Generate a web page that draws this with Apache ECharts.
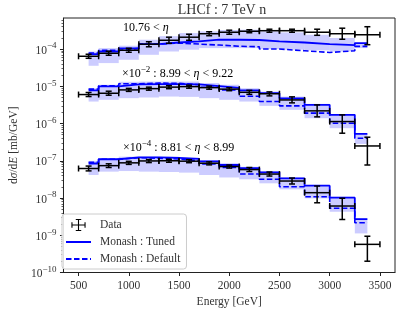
<!DOCTYPE html>
<html>
<head>
<meta charset="utf-8">
<script src="https://cdn.jsdelivr.net/npm/echarts@6/dist/echarts.min.js"></script>
<style>html,body{margin:0;padding:0;background:#fff}#main{width:399px;height:322px}</style>
</head>
<body>
<div id="main"></div>
<script>
var chartDom = document.getElementById('main');
var myChart = echarts.init(chartDom);
var option;

// energy bins [GeV]
var dataEdges = [500, 700, 900, 1100, 1300, 1500, 1700, 1900, 2100, 2300, 2500, 2750, 3000, 3250, 3500];
var modelEdges = [600, 700, 900, 1100, 1300, 1500, 1700, 1900, 2100, 2300, 2500, 2750, 3000, 3250, 3375];

// 10.76 < eta
var dataTop = [6.4e-5, 7.7e-5, 9.3e-5, 1.35e-4, 1.72e-4, 2.08e-4, 2.58e-4, 2.83e-4, 3.01e-4, 3.11e-4, 3.11e-4, 2.83e-4, 2.58e-4, 2.42e-4];
var dataTopLo = [5.65e-5, 6.81e-5, 8.19e-5, 1.15e-4, 1.43e-4, 1.72e-4, 2.28e-4, 2.5e-4, 2.74e-4, 2.83e-4, 2.83e-4, 2.34e-4, 1.83e-4, 1.31e-4];
var dataTopHi = [7.25e-5, 8.73e-5, 1.05e-4, 1.57e-4, 2.08e-4, 2.5e-4, 2.92e-4, 3.21e-4, 3.3e-4, 3.41e-4, 3.41e-4, 3.41e-4, 3.63e-4, 3.98e-4];
var tunedTop = [7.3e-5, 8.6e-5, 1.04e-4, 1.36e-4, 1.5e-4, 1.6e-4, 1.78e-4, 1.78e-4, 1.75e-4, 1.6e-4, 1.5e-4, 1.36e-4, 1.28e-4, 1.45e-4];
var defaultTop = [7.8e-5, 9.2e-5, 1.04e-4, 1.36e-4, 1.45e-4, 1.36e-4, 1.28e-4, 1.19e-4, 1.15e-4, 1.0e-4, 9.0e-5, 8.1e-5, 9.0e-5, 1.18e-4];
var bandTopHi = [8.6e-5, 1.06e-4, 1.23e-4, 1.78e-4, 2.22e-4, 2.69e-4, 2.98e-4, 3.25e-4, 3.31e-4, 2.98e-4, 2.8e-4, 2.42e-4, 1.98e-4, 1.45e-4];
var bandTopLo = [3.55e-5, 4.2e-5, 5.15e-5, 7.0e-5, 8.6e-5, 9.6e-5, 1.06e-4, 1.06e-4, 1.06e-4, 1.0e-4, 9.6e-5, 9.2e-5, 8.6e-5, 1.06e-4];

// x1e-2 : 8.99 < eta < 9.22 (values as plotted)
var dataMid = [6.0e-6, 6.5e-6, 8.0e-6, 8.65e-6, 9.5e-6, 9.8e-6, 9.2e-6, 8.4e-6, 6.9e-6, 6.3e-6, 4.3e-6, 2.19e-6, 1.13e-6, 2.5e-7];
var dataMidLo = [5.31e-6, 5.76e-6, 7.3e-6, 7.86e-6, 8.63e-6, 8.89e-6, 8.35e-6, 7.61e-6, 6.08e-6, 5.53e-6, 3.59e-6, 1.51e-6, 5.5e-7, 7.7e-8];
var dataMidHi = [6.81e-6, 7.38e-6, 8.79e-6, 9.48e-6, 1.04e-5, 1.07e-5, 1.01e-5, 9.18e-6, 7.79e-6, 7.08e-6, 5.2e-6, 3.17e-6, 1.71e-6, 4.29e-7];
var tunedMid = [7.8e-6, 1.0e-5, 1.13e-5, 1.15e-5, 1.15e-5, 1.12e-5, 1.01e-5, 9.1e-6, 7.8e-6, 6.55e-6, 4.75e-6, 3.17e-6, 1.71e-6, 5.26e-7];
var defaultMid = [8.4e-6, 1.03e-5, 1.17e-5, 1.22e-5, 1.2e-5, 1.1e-5, 9.4e-6, 8.0e-6, 5.4e-6, 3.89e-6, 2.98e-6, 1.9e-6, 1.02e-6, 4.03e-7];
var bandMidHi = [8.9e-6, 1.1e-5, 1.32e-5, 1.34e-5, 1.34e-5, 1.34e-5, 1.22e-5, 1.1e-5, 8.9e-6, 7.2e-6, 5.3e-6, 3.38e-6, 1.71e-6, 5.26e-7];
var bandMidLo = [3.89e-6, 4.33e-6, 4.8e-6, 5.0e-6, 5.3e-6, 5.2e-6, 4.8e-6, 4.33e-6, 3.89e-6, 2.98e-6, 2.33e-6, 1.39e-6, 7.5e-7, 2.83e-7];

// x1e-4 : 8.81 < eta < 8.99 (values as plotted)
var dataBot = [6.2e-8, 7.4e-8, 8.8e-8, 9.9e-8, 1.0e-7, 9.75e-8, 8.6e-8, 7.0e-8, 5.8e-8, 4.4e-8, 2.86e-8, 1.39e-8, 6.1e-9, 5.7e-10];
var dataBotLo = [5.35e-8, 6.6e-8, 8.0e-8, 8.95e-8, 9.12e-8, 8.87e-8, 7.76e-8, 6.36e-8, 5.15e-8, 3.89e-8, 2.38e-8, 7.45e-9, 2.65e-9, 2.01e-10];
var dataBotHi = [7.21e-8, 8.3e-8, 9.65e-8, 1.08e-7, 1.1e-7, 1.07e-7, 9.36e-8, 7.67e-8, 6.6e-8, 4.99e-8, 3.44e-8, 2.1e-8, 9.86e-9, 9.42e-10];
var tunedBot = [8.46e-8, 1.1e-7, 1.24e-7, 1.23e-7, 1.2e-7, 1.13e-7, 9.6e-8, 7.7e-8, 6.3e-8, 4.9e-8, 3.38e-8, 2.14e-8, 1.02e-8, 2.72e-9];
var defaultBot = [9.1e-8, 1.1e-7, 1.21e-7, 1.17e-7, 1.12e-7, 1.0e-7, 8.2e-8, 6.6e-8, 4.4e-8, 3.18e-8, 2.0e-8, 1.08e-8, 5.3e-9, 2.16e-9];
var bandBotHi = [9.9e-8, 1.17e-7, 1.29e-7, 1.29e-7, 1.29e-7, 1.21e-7, 1.05e-7, 8.6e-8, 6.9e-8, 5.3e-8, 3.6e-8, 2.23e-8, 1.08e-8, 2.84e-9];
var bandBotLo = [4.15e-8, 5.1e-8, 5.3e-8, 5.1e-8, 5.0e-8, 4.8e-8, 4.15e-8, 3.56e-8, 3.18e-8, 2.48e-8, 1.71e-8, 9.8e-9, 4.27e-9, 1.12e-9];

var xTicks = [500, 1000, 1500, 2000, 2500, 3000, 3500];
var yDecades = [-10, -9, -8, -7, -6, -5, -4];
var yMin = 1e-10, yMax = 6.82e-4;

var FONT = 'Liberation Serif';
var TXT = '#333';
var lg = Math.log10;

var groups = [
  {d: dataTop, lo: dataTopLo, hi: dataTopHi, t: tunedTop, df: defaultTop, bh: bandTopHi, bl: bandTopLo},
  {d: dataMid, lo: dataMidLo, hi: dataMidHi, t: tunedMid, df: defaultMid, bh: bandMidHi, bl: bandMidLo},
  {d: dataBot, lo: dataBotLo, hi: dataBotHi, t: tunedBot, df: defaultBot, bh: bandBotHi, bl: bandBotLo}
];

// minor ticks 2..9 x 10^n
var minorTicks = [];
for (var n = -10; n <= -4; n++) {
  for (var k = 2; k <= 9; k++) {
    var v = lg(k) + n;
    if (v < lg(yMax)) minorTicks.push(v);
  }
}

function stepData(vals) {
  return modelEdges.map(function (e, i) {
    return [e, lg(vals[Math.min(i, vals.length - 1)])];
  });
}

function seg(x1, y1, x2, y2) {
  return {type: 'line', shape: {x1: x1, y1: y1, x2: x2, y2: y2},
    style: {stroke: '#000', lineWidth: 1.5}};
}

function renderErr(params, api) {
  var x0 = api.value(0), x1 = api.value(1), y = api.value(2);
  var lo = api.value(3), hi = api.value(4);
  var xc = (x0 + x1) / 2;
  var pL = api.coord([x0, y]), pR = api.coord([x1, y]);
  var pT = api.coord([xc, hi]), pB = api.coord([xc, lo]);
  var c = 3;
  return {type: 'group', children: [
    seg(pL[0], pL[1], pR[0], pR[1]),
    seg(pT[0], pT[1], pB[0], pB[1]),
    seg(pT[0] - c, pT[1], pT[0] + c, pT[1]),
    seg(pB[0] - c, pB[1], pB[0] + c, pB[1]),
    seg(pL[0], pL[1] - c, pL[0], pL[1] + c),
    seg(pR[0], pR[1] - c, pR[0], pR[1] + c)
  ]};
}

function renderBand(params, api) {
  var p0 = api.coord([api.value(0), api.value(3)]);
  var p1 = api.coord([api.value(1), api.value(2)]);
  return {type: 'rect', shape: {x: p0[0], y: p0[1], width: p1[0] - p0[0], height: p1[1] - p0[1]},
    style: {fill: 'rgba(0,0,255,0.2)'}};
}

var series = [];
groups.forEach(function (g) {
  series.push({
    type: 'custom', name: 'band', silent: true, z: 1,
    renderItem: renderBand,
    encode: {x: [0, 1], y: [2, 3]},
    data: g.bh.map(function (h, i) { return [modelEdges[i], modelEdges[i + 1], lg(g.bl[i]), lg(h)]; })
  });
  series.push({
    type: 'line', name: 'Monash : Tuned', step: 'end', symbol: 'none', z: 2,
    lineStyle: {color: '#0000ff', width: 1.8}, itemStyle: {color: '#0000ff'},
    data: stepData(g.t)
  });
  series.push({
    type: 'line', name: 'Monash : Default', step: 'end', symbol: 'none', z: 2,
    lineStyle: {color: '#0000ff', width: 1.6, type: [5.5, 2.5]}, itemStyle: {color: '#0000ff'},
    data: stepData(g.df)
  });
  series.push({
    type: 'custom', name: 'Data', z: 3,
    renderItem: renderErr,
    itemStyle: {color: '#000'},
    encode: {x: [0, 1], y: [2, 3, 4]},
    data: g.d.map(function (v, i) { return [dataEdges[i], dataEdges[i + 1], lg(v), lg(g.lo[i]), lg(g.hi[i])]; })
  });
});

var errIcon = 'path://M0,10H26V12H0Z M12,0H14V22H12Z M8,0H18V2H8Z M8,20H18V22H8Z M0,6H2V16H0Z M24,6H26V16H24Z';

function richSet(size) {
  return {
    b: {fontFamily: FONT, fontSize: size, color: TXT, lineHeight: 15, verticalAlign: 'bottom'},
    s: {fontFamily: FONT, fontSize: 9, color: TXT, lineHeight: 15, verticalAlign: 'top'},
    i: {fontFamily: FONT, fontSize: size, color: TXT, fontStyle: 'italic', lineHeight: 15, verticalAlign: 'bottom'}
  };
}
var rich = richSet(11.5);
var richNote = richSet(12);

option = {
  animation: false,
  backgroundColor: '#fff',
  grid: {left: 55, right: 4, top: 18, bottom: 49.5, show: true, borderColor: '#222', borderWidth: 1},
  legend: {
    left: 62, top: 214, orient: 'vertical',
    data: [
      {name: 'Data', icon: errIcon},
      {name: 'Monash : Tuned', itemStyle: {opacity: 0}},
      {name: 'Monash : Default', itemStyle: {opacity: 0}}
    ],
    itemWidth: 25, itemHeight: 12, itemGap: 3, symbolKeepAspect: true,
    backgroundColor: 'rgba(255,255,255,0.85)', borderColor: '#ccc', borderWidth: 1, borderRadius: 3,
    padding: [4, 6, 3, 3],
    textStyle: {fontFamily: FONT, fontSize: 11.5, color: TXT, lineHeight: 14, padding: [0, 0, 0, 4]}
  },
  xAxis: {
    type: 'value', min: 350, max: 3650,
    name: 'Energy [GeV]', nameLocation: 'middle', nameGap: 20,
    nameTextStyle: {fontFamily: FONT, fontSize: 11.5, color: TXT},
    axisLine: {lineStyle: {color: '#222', width: 1}},
    axisTick: {length: 3.5, lineStyle: {color: '#222'}, customValues: xTicks},
    axisLabel: {
      fontFamily: FONT, fontSize: 11.5, color: TXT, margin: 7, customValues: xTicks,
      formatter: function (v) { return String(v); }
    },
    splitLine: {show: false}
  },
  yAxis: [{
    type: 'value', min: lg(yMin), max: lg(yMax), position: 'left',
    name: '{b|d}{i|σ}{b|/d}{i|E}{b| [mb/GeV]}', nameLocation: 'middle', nameGap: 42,
    nameTextStyle: {rich: rich},
    axisLine: {lineStyle: {color: '#222', width: 1}},
    axisTick: {length: 3.5, lineStyle: {color: '#222'}, customValues: yDecades},
    axisLabel: {
      margin: 7, customValues: yDecades, rich: rich,
      formatter: function (v) { return '{b|10}{s|\u2212' + Math.round(-v) + '}'; }
    },
    splitLine: {show: false}
  }, {
    type: 'value', min: lg(yMin), max: lg(yMax), position: 'left',
    axisLine: {show: false},
    axisTick: {length: 2, lineStyle: {color: '#222', width: 0.7}, customValues: minorTicks},
    axisLabel: {show: false},
    splitLine: {show: false}
  }],
  graphic: [
    {type: 'text', x: 222, y: 10, style: {text: 'LHCf : 7 TeV n', align: 'center', verticalAlign: 'middle',
      fontFamily: FONT, fontSize: 14, fill: TXT}},
    {type: 'text', left: 123, top: 22, style: {text: '{b|10.76 < }{i|η}', rich: richNote}},
    {type: 'text', left: 122, top: 65, style: {text: '{b|×10}{s|\u22122}{b| : 8.99 < }{i|η}{b| < 9.22}', rich: richNote}},
    {type: 'text', left: 123, top: 139, style: {text: '{b|×10}{s|\u22124}{b| : 8.81 < }{i|η}{b| < 8.99}', rich: richNote}}
  ],
  series: series
};

option && myChart.setOption(option);
</script>
</body>
</html>
